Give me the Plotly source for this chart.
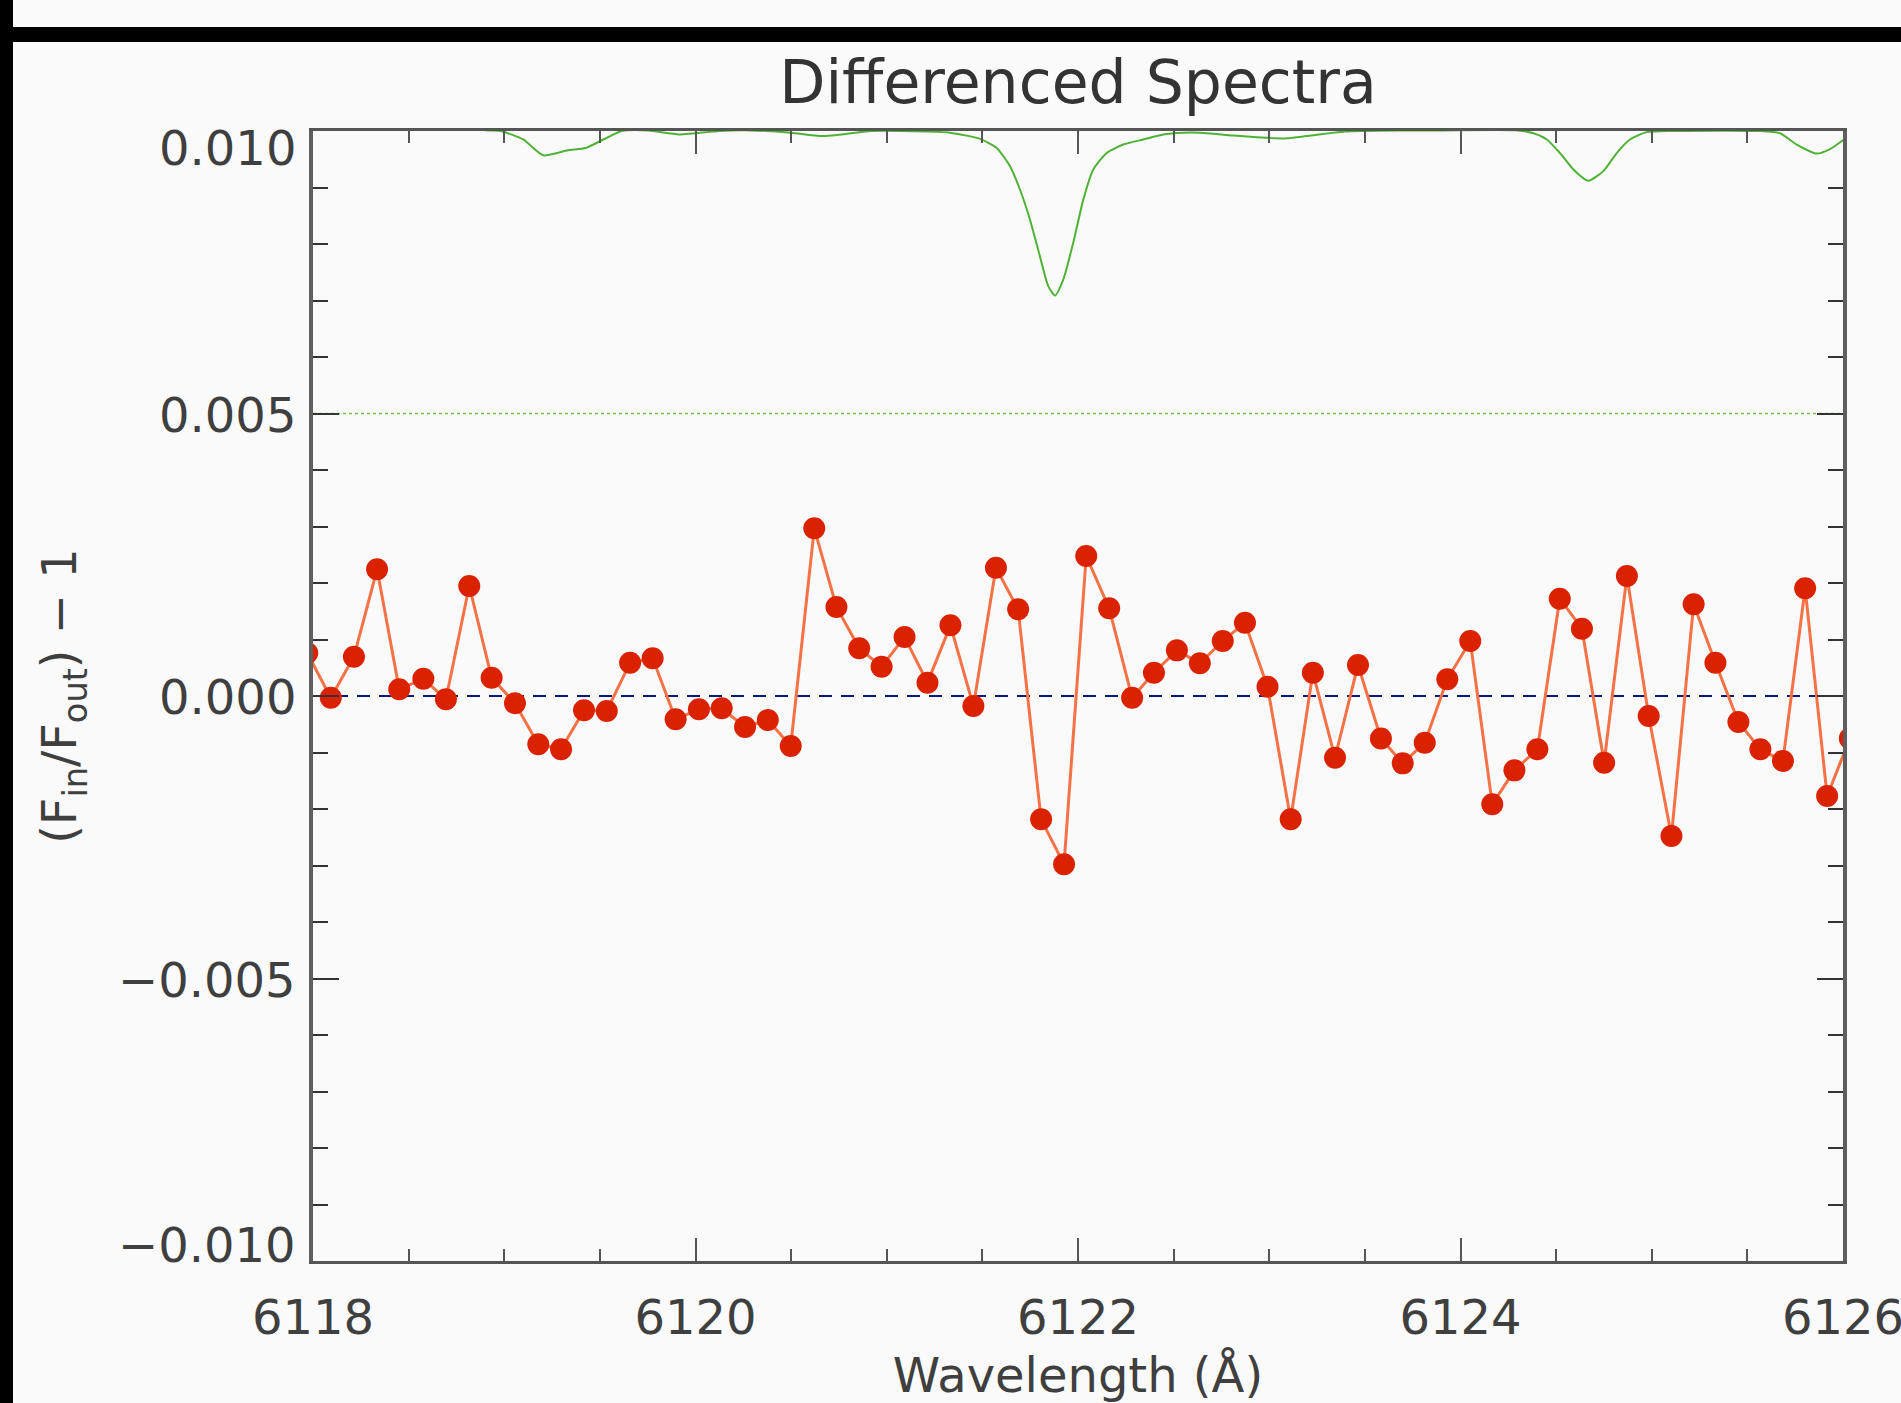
import plotly.graph_objects as go

# ---------------- data ----------------
# differenced spectrum (F_in/F_out - 1) sampled at the pixel wavelengths
diff_wl = [6117.970, 6118.093, 6118.214, 6118.335, 6118.451, 6118.577, 6118.695, 6118.817,
           6118.934, 6119.056, 6119.178, 6119.297, 6119.417, 6119.536, 6119.658, 6119.776,
           6119.896, 6120.018, 6120.137, 6120.259, 6120.378, 6120.498, 6120.621, 6120.737,
           6120.856, 6120.973, 6121.093, 6121.213, 6121.333, 6121.453, 6121.571, 6121.687,
           6121.807, 6121.927, 6122.043, 6122.163, 6122.283, 6122.397, 6122.517, 6122.637,
           6122.757, 6122.873, 6122.991, 6123.112, 6123.228, 6123.344, 6123.464, 6123.584,
           6123.698, 6123.813, 6123.931, 6124.051, 6124.166, 6124.282, 6124.402, 6124.519,
           6124.635, 6124.751, 6124.870, 6124.984, 6125.103, 6125.219, 6125.333, 6125.453,
           6125.568, 6125.686, 6125.802, 6125.917, 6126.036]
diff_val = [0.76e-3, -0.03e-3, 0.696e-3, 2.242e-3, 0.119e-3, 0.306e-3, -0.058e-3, 1.947e-3,
            0.324e-3, -0.129e-3, -0.855e-3, -0.943e-3, -0.253e-3, -0.265e-3, 0.589e-3, 0.667e-3,
            -0.412e-3, -0.235e-3, -0.218e-3, -0.549e-3, -0.425e-3, -0.885e-3, 2.968e-3, 1.575e-3,
            0.844e-3, 0.519e-3, 1.044e-3, 0.236e-3, 1.251e-3, -0.177e-3, 2.271e-3, 1.534e-3,
            -2.183e-3, -2.979e-3, 2.478e-3, 1.552e-3, -0.03e-3, 0.412e-3, 0.808e-3, 0.578e-3,
            0.973e-3, 1.298e-3, 0.165e-3, -2.183e-3, 0.412e-3, -1.092e-3, 0.549e-3, -0.752e-3,
            -1.192e-3, -0.826e-3, 0.295e-3, 0.973e-3, -1.917e-3, -1.316e-3, -0.944e-3, 1.722e-3,
            1.191e-3, -1.18e-3, 2.124e-3, -0.354e-3, -2.478e-3, 1.623e-3, 0.59e-3, -0.46e-3,
            -0.944e-3, -1.15e-3, 1.906e-3, -1.77e-3, -0.75e-3]

# scaled model spectrum drawn along the top of the panel
model_wl = [6118.000, 6118.500, 6118.925, 6118.982, 6119.099, 6119.204, 6119.333, 6119.426,
            6119.519, 6119.613, 6119.753, 6119.916, 6120.126, 6120.290, 6120.499, 6120.663,
            6120.920, 6121.200, 6121.331, 6121.488, 6121.575, 6121.644, 6121.697, 6121.749,
            6121.801, 6121.845, 6121.880, 6121.923, 6121.975, 6122.028, 6122.080, 6122.150,
            6122.237, 6122.341, 6122.446, 6122.551, 6122.638, 6122.812, 6122.987, 6123.094,
            6123.395, 6123.695, 6123.900, 6124.300, 6124.381, 6124.451, 6124.520, 6124.590,
            6124.668, 6124.747, 6124.817, 6124.886, 6124.974, 6125.113, 6125.566, 6125.671,
            6125.758, 6125.863, 6125.932, 6125.993, 6126.040]
model_val = [0.01010, 0.01010, 0.01001, 0.01000, 0.00985, 0.00957, 0.00966, 0.00970,
             0.00985, 0.01000, 0.01001, 0.00994, 0.01000, 0.01001, 0.00997, 0.00991,
             0.01000, 0.00999, 0.00997, 0.00986, 0.00970, 0.00938, 0.00896, 0.00843,
             0.00778, 0.00725, 0.00709, 0.00737, 0.00802, 0.00879, 0.00932, 0.00961,
             0.00976, 0.00985, 0.00994, 0.00997, 0.00997, 0.00992, 0.00988, 0.00987,
             0.00999, 0.01001, 0.01001, 0.01001, 0.00996, 0.00985, 0.00961, 0.00932,
             0.00912, 0.00929, 0.00961, 0.00985, 0.00998, 0.01000, 0.01000, 0.00996,
             0.00976, 0.00960, 0.00968, 0.00982, 0.00994]

model_ref_level = 0.005
zero_level = 0.0

x_range = [6118, 6126]
y_range = [-0.010, 0.010]
x_tick_vals = [6118, 6120, 6122, 6124, 6126]
x_tick_text = ["6118", "6120", "6122", "6124", "6126"]
y_tick_vals = [0.010, 0.005, 0.000, -0.005, -0.010]
y_tick_text = ["0.010", "0.005", "0.000", "\u22120.005", "\u22120.010"]

# ---------------- style ----------------
BG = "#fafafa"
FONT = "DejaVu Sans"
TXT = "#3f3f3f"
y_label_shift = [-17, -1, -1, -1, 16]

fig = go.Figure()

fig.add_trace(go.Scatter(
    x=model_wl, y=model_val, mode="lines",
    line=dict(color="#4fb236", width=2, shape="spline", smoothing=0.6),
    hoverinfo="skip", showlegend=False))

fig.add_trace(go.Scatter(
    x=diff_wl, y=diff_val, mode="lines+markers",
    line=dict(color="#f47246", width=3),
    marker=dict(color="#da2200", size=22, line=dict(width=0)),
    showlegend=False))

fig.add_hline(y=model_ref_level, line=dict(color="#6cc24a", width=1.3, dash="dot"), layer="below")
fig.add_hline(y=zero_level, line=dict(color="#0b1a7a", width=2, dash="13px,9px"), layer="below")

axis_font = dict(family=FONT, size=48, color=TXT)

fig.update_xaxes(
    range=x_range, tickvals=x_tick_vals, ticktext=x_tick_text,
    ticks="inside", ticklen=23, tickwidth=2, tickcolor="#555555",
    showline=True, linewidth=3, linecolor="#555555", mirror="ticks",
    showgrid=False, zeroline=False, tickfont=axis_font, ticklabelstandoff=12,
    ticklabeloverflow="allow", automargin=False,
    minor=dict(dtick=0.5, tick0=6118, ticks="inside", ticklen=12, tickwidth=2,
               tickcolor="#555555", showgrid=False),
    title=dict(text="Wavelength (\u00c5)", font=axis_font, standoff=26))

fig.update_yaxes(
    range=y_range, tickvals=y_tick_vals, ticks="inside", ticklen=26, tickwidth=2,
    tickcolor="#333333", showticklabels=False, automargin=False,
    showline=True, linewidth=3.5, linecolor="#5e5e5e", mirror="ticks",
    showgrid=False, zeroline=False,
    minor=dict(dtick=0.001, tick0=0, ticks="inside", ticklen=15, tickwidth=2,
               tickcolor="#333333", showgrid=False),
    title=dict(text="(F<sub>in</sub>/F<sub>out</sub>) \u2212 1", font=axis_font, standoff=218))

for v, t, s in zip(y_tick_vals, y_tick_text, y_label_shift):
    fig.add_annotation(x=0, xref="paper", y=v, yref="y", text=t, showarrow=False,
                       xanchor="right", yanchor="middle", xshift=-15, yshift=s,
                       font=axis_font)

# screenshot frame bands (black strips at the top and left edges)
W, H = 1901, 1403
ml, mr, mt, mb = 313, 58, 131, 142
pw, ph = W - ml - mr, H - mt - mb
def px(x):
    return (x - ml) / pw
def py(y):
    return (H - mb - y) / ph
fig.add_shape(type="rect", xref="paper", yref="paper", x0=px(0), x1=px(W), y0=py(42), y1=py(27),
              fillcolor="#000000", line=dict(width=0), layer="above")
fig.add_shape(type="rect", xref="paper", yref="paper", x0=px(0), x1=px(13), y0=py(H), y1=py(0),
              fillcolor="#000000", line=dict(width=0), layer="above")

fig.update_layout(
    width=W, height=H,
    margin=dict(l=ml, r=mr, t=mt, b=mb, pad=0, autoexpand=False),
    paper_bgcolor=BG, plot_bgcolor=BG,
    title=dict(text="Differenced Spectra", x=0.5, xref="paper", xanchor="center",
               y=1 - 82 / H, yref="container", yanchor="middle",
               font=dict(family=FONT, size=60, color="#333333")),
    showlegend=False)

fig.write_html("out.html")
